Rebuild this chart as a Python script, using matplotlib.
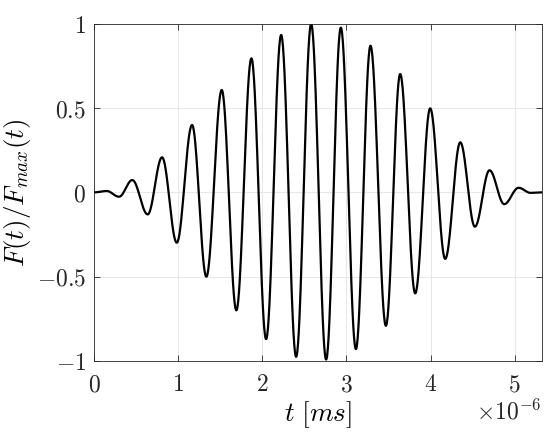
import numpy as np
import matplotlib
matplotlib.use("Agg")
import matplotlib.pyplot as plt
from matplotlib.ticker import FuncFormatter

plt.rcParams['mathtext.fontset'] = 'cm'
plt.rcParams['font.family'] = 'serif'

# extrema of the normalised signal (t in units of 1e-6)
t_ext = [0.0, 0.147, 0.294, 0.452, 0.635, 0.806, 0.981, 1.163, 1.333, 1.516,
         1.690, 1.869, 2.044, 2.223, 2.401, 2.580, 2.758, 2.933, 3.112, 3.286,
         3.469, 3.639, 3.818, 3.996, 4.175, 4.354, 4.528, 4.702, 4.877, 5.048,
         5.190, 5.330]
f_ext = [0.0, 0.008, -0.026, 0.073, -0.131, 0.208, -0.299, 0.400, -0.501, 0.608,
         -0.701, 0.796, -0.872, 0.935, -0.977, 1.000, -0.993, 0.978, -0.931, 0.871,
         -0.793, 0.703, -0.600, 0.499, -0.395, 0.297, -0.204, 0.131, -0.070, 0.027,
         -0.003, 0.0]
x_ticks = [0, 1, 2, 3, 4, 5]
y_ticks = [-1, -0.5, 0, 0.5, 1]
scale = 1e-6

# smooth half-cosine shape between consecutive extrema
ts, fs = [], []
for i in range(len(t_ext) - 1):
    s = np.linspace(0, 1, 40, endpoint=False)
    a, b = f_ext[i], f_ext[i + 1]
    ts.append(t_ext[i] + (t_ext[i + 1] - t_ext[i]) * s)
    fs.append((a + b) / 2 + (a - b) / 2 * np.cos(np.pi * s))
ts.append([t_ext[-1]]); fs.append([f_ext[-1]])
t = np.concatenate(ts) * scale
f = np.concatenate(fs)

fig = plt.figure(figsize=(5.5, 4.37), dpi=100)
ax = fig.add_axes([0.1715, 0.1746, 0.8145, 0.7705])
ax.plot(t, f, color='black', lw=1.6)
ax.set_xlim(0, 5.33 * scale)
ax.set_ylim(-1, 1)
ax.set_xticks([v * scale for v in x_ticks])
ax.set_yticks(y_ticks)
ax.xaxis.set_major_formatter(FuncFormatter(lambda v, p: r'$%g$' % round(v / scale, 6)))
ax.yaxis.set_major_formatter(FuncFormatter(lambda v, p: r'$%g$' % v))
ax.tick_params(direction='in', length=4, width=0.6, colors='#262626',
               labelsize=17, top=True, right=True)
ax.tick_params(axis='x', pad=9)
ax.tick_params(axis='y', pad=6)
ax.grid(True, color='#e3e3e3', lw=0.6)
ax.set_axisbelow(True)
for sp in ax.spines.values():
    sp.set_color('#262626')
    sp.set_linewidth(0.6)
ax.set_xlabel(r'$t\ [ms]$', fontsize=19.5, labelpad=2)
ax.set_ylabel(r'$F(t)/F_{max}(t)$', fontsize=19.5, labelpad=3)
fig.text(541 / 550, 1 - 412 / 437, r'$\times 10^{-6}$', fontsize=17,
         ha='right', va='center', color='#262626')
fig.savefig('out.png', dpi=100)
